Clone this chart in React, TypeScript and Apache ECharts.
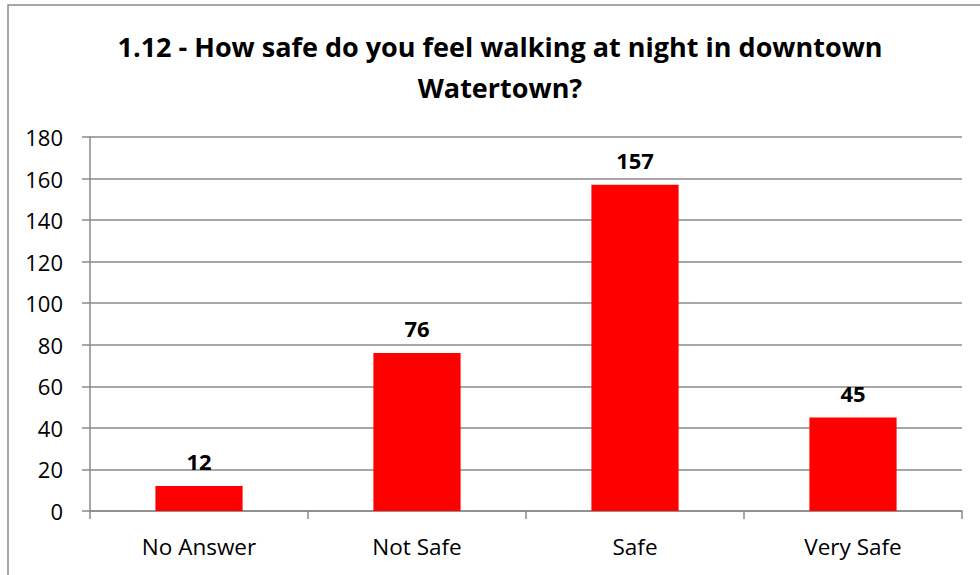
import React, { useEffect, useRef } from "react";
import * as echarts from "echarts";

const titleText = "1.12 - How safe do you feel walking at night in downtown\nWatertown?";
const categories = ["No Answer", "Not Safe", "Safe", "Very Safe"];
const values = [12, 76, 157, 45];
const yMin = 0;
const yMax = 180;
const yStep = 20;

const FONT = "'Open Sans', sans-serif";
const GRAY = "#8a8a8a";

export default function App() {
  const ref = useRef<HTMLDivElement>(null);
  useEffect(() => {
    if (!ref.current) return;
    const chart = echarts.init(ref.current, undefined, { renderer: "svg" });
    chart.setOption({
      animation: false,
      backgroundColor: "#ffffff",
      graphic: [
        {
          type: "rect",
          shape: { x: 8, y: 5, width: 1000, height: 600 },
          style: { fill: "none", stroke: GRAY, lineWidth: 1.5 },
          silent: true,
        },
        {
          type: "text",
          x: 500,
          y: 67,
          style: {
            text: titleText,
            font: `bold 27px ${FONT}`,
            fill: "#000",
            textAlign: "center",
            textVerticalAlign: "middle",
            lineHeight: 41,
          },
        },
      ],
      grid: { left: 90, right: 18, top: 137, bottom: 64 },
      xAxis: {
        type: "category",
        data: categories,
        axisLine: { show: true, lineStyle: { color: GRAY, width: 1.5 } },
        axisTick: { show: true, alignWithLabel: false, length: 8, lineStyle: { color: GRAY, width: 1.5 } },
        axisLabel: { color: "#000", fontFamily: FONT, fontSize: 22.5, margin: 24 },
        splitLine: { show: false },
      },
      yAxis: {
        type: "value",
        min: yMin,
        max: yMax,
        interval: yStep,
        axisLine: { show: true, lineStyle: { color: GRAY, width: 1.5 } },
        axisTick: { show: true, length: 8, lineStyle: { color: GRAY, width: 1.5 } },
        axisLabel: { color: "#000", fontFamily: FONT, fontSize: 22, margin: 27 },
        splitLine: { show: true, lineStyle: { color: GRAY, width: 1.5 } },
      },
      series: [
        {
          type: "bar",
          data: values,
          barWidth: "40%",
          itemStyle: { color: "#ff0000" },
          label: {
            show: true,
            position: "top",
            distance: 14,
            color: "#000",
            fontFamily: FONT,
            fontWeight: "bold",
            fontSize: 22,
          },
        },
      ],
    });
    return () => chart.dispose();
  }, []);
  return (
    <div
      ref={ref}
      style={{ position: "fixed", left: 0, top: 0, width: 980, height: 575, background: "#fff" }}
    />
  );
}
